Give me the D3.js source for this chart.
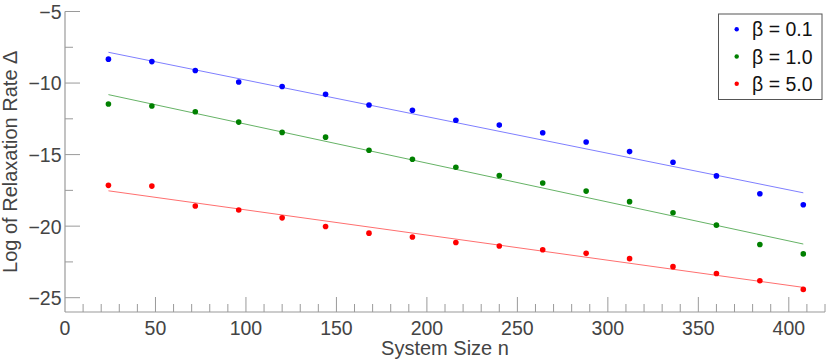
<!DOCTYPE html>
<html>
<head>
<meta charset="utf-8">
<script src="https://cdn.jsdelivr.net/npm/d3@7/dist/d3.min.js"></script>
<style>
  html, body { margin: 0; padding: 0; background: #fff; }
  svg { display: block; font-family: "Liberation Sans", Arial, Helvetica, sans-serif; }
</style>
</head>
<body>
<svg id="chart" width="830" height="361"></svg>
<script>
// ---- data ----
const sizes = [24, 48, 72, 96, 120, 144, 168, 192, 216, 240, 264, 288, 312, 336, 360, 384, 408];
const beta01 = [-8.33, -8.50, -9.12, -9.93, -10.24, -10.79, -11.53, -11.90, -12.60, -12.94, -13.47, -14.12, -14.79, -15.53, -16.49, -17.74, -18.50];
const beta10 = [-11.46, -11.60, -12.01, -12.73, -13.45, -13.78, -14.70, -15.33, -15.88, -16.46, -16.99, -17.55, -18.29, -19.06, -19.93, -21.28, -21.94];
const beta50 = [-17.15, -17.20, -18.59, -18.87, -19.42, -20.03, -20.49, -20.76, -21.14, -21.39, -21.65, -21.90, -22.27, -22.83, -23.31, -23.82, -24.42];
// fitted line endpoints (at first and last system size)
const fit01 = [-7.85, -17.67];
const fit10 = [-10.81, -21.25];
const fit50 = [-17.53, -24.28];
const seriesLabels = ["β = 0.1", "β = 1.0", "β = 5.0"];
const xTicks = [0, 50, 100, 150, 200, 250, 300, 350, 400];
const yTicks = [-25, -20, -15, -10, -5];

(function () {
const series = [
  { label: seriesLabels[0], values: beta01, fit: fit01, dot: "#0000ff", line: "#7f7fff" },
  { label: seriesLabels[1], values: beta10, fit: fit10, dot: "#008000", line: "#66b366" },
  { label: seriesLabels[2], values: beta50, fit: fit50, dot: "#ff0000", line: "#ff6f6f" }
];

const svg = d3.select("#chart");
const mLeft = 65, mRight = 825, mTop = 11.5, mBottom = 312;
const x = d3.scaleLinear().domain([0, 420]).range([mLeft, mRight]);
const y = d3.scaleLinear().domain([-26, -5]).range([mBottom, mTop]);

const axisColor = "#9a9a9a";
const textColor = "#444444";

const xMinor = d3.range(10, 421, 10).filter(v => v % 50 !== 0);
const yMinor = d3.range(-25, -5, 2.5).filter(v => v % 5 !== 0);

const g = svg.append("g");
// x axis
g.append("line").attr("x1", x(0)).attr("x2", x(420)).attr("y1", mBottom).attr("y2", mBottom)
  .attr("stroke", axisColor).attr("stroke-width", 1.2);
g.selectAll(".xmaj").data(xTicks.filter(v => v > 0)).join("line")
  .attr("x1", d => x(d)).attr("x2", d => x(d)).attr("y1", mBottom).attr("y2", mBottom - 15)
  .attr("stroke", axisColor).attr("stroke-width", 1);
g.selectAll(".xmin").data(xMinor).join("line")
  .attr("x1", d => x(d)).attr("x2", d => x(d)).attr("y1", mBottom).attr("y2", mBottom - 8)
  .attr("stroke", axisColor).attr("stroke-width", 1);
g.selectAll(".xlab").data(xTicks).join("text")
  .attr("x", d => x(d)).attr("y", 335).attr("text-anchor", "middle")
  .attr("font-size", 19.5).attr("fill", textColor).text(d => d);

// y axis
g.append("line").attr("x1", mLeft).attr("x2", mLeft).attr("y1", y(-5)).attr("y2", mBottom)
  .attr("stroke", axisColor).attr("stroke-width", 1.2);
g.selectAll(".ymaj").data(yTicks).join("line")
  .attr("x1", mLeft).attr("x2", mLeft + 15).attr("y1", d => y(d)).attr("y2", d => y(d))
  .attr("stroke", axisColor).attr("stroke-width", 1);
g.selectAll(".ymin").data(yMinor).join("line")
  .attr("x1", mLeft).attr("x2", mLeft + 8).attr("y1", d => y(d)).attr("y2", d => y(d))
  .attr("stroke", axisColor).attr("stroke-width", 1);
g.selectAll(".ylab").data(yTicks).join("text")
  .attr("x", 61.5).attr("y", d => y(d)).attr("dy", "0.38em").attr("text-anchor", "end")
  .attr("font-size", 19.5).attr("fill", textColor).text(d => "\u2212" + Math.abs(d));

// axis titles
svg.append("text").attr("x", (mLeft + mRight) / 2).attr("y", 355).attr("text-anchor", "middle")
  .attr("font-size", 20).attr("fill", textColor).text("System Size n");
svg.append("text").attr("transform", `translate(17,${(mTop + mBottom) / 2}) rotate(-90)`)
  .attr("text-anchor", "middle").attr("font-size", 20).attr("fill", textColor)
  .text("Log of Relaxation Rate Δ");

// fit lines and points
series.forEach(s => {
  svg.append("line")
    .attr("x1", x(sizes[0])).attr("y1", y(s.fit[0]))
    .attr("x2", x(sizes[sizes.length - 1])).attr("y2", y(s.fit[1]))
    .attr("stroke", s.line).attr("stroke-width", 1);
  svg.append("g").selectAll("circle").data(sizes.map((n, i) => [n, s.values[i]])).join("circle")
    .attr("cx", d => x(d[0])).attr("cy", d => y(d[1])).attr("r", 2.8).attr("fill", s.dot);
});

// legend
const lg = svg.append("g");
lg.append("rect").attr("x", 718.5).attr("y", 14).attr("width", 103.5).attr("height", 85.5)
  .attr("fill", "#fff").attr("stroke", "#555").attr("stroke-width", 1);
series.forEach((s, i) => {
  const cy = 29.3 + i * 27.2;
  lg.append("circle").attr("cx", 736.7).attr("cy", cy).attr("r", 2.2).attr("fill", s.dot);
  lg.append("text").attr("x", 752).attr("y", cy).attr("dy", "0.36em")
    .attr("font-size", 19.5).attr("fill", "#111").text(s.label);
});
})();
</script>
</body>
</html>
